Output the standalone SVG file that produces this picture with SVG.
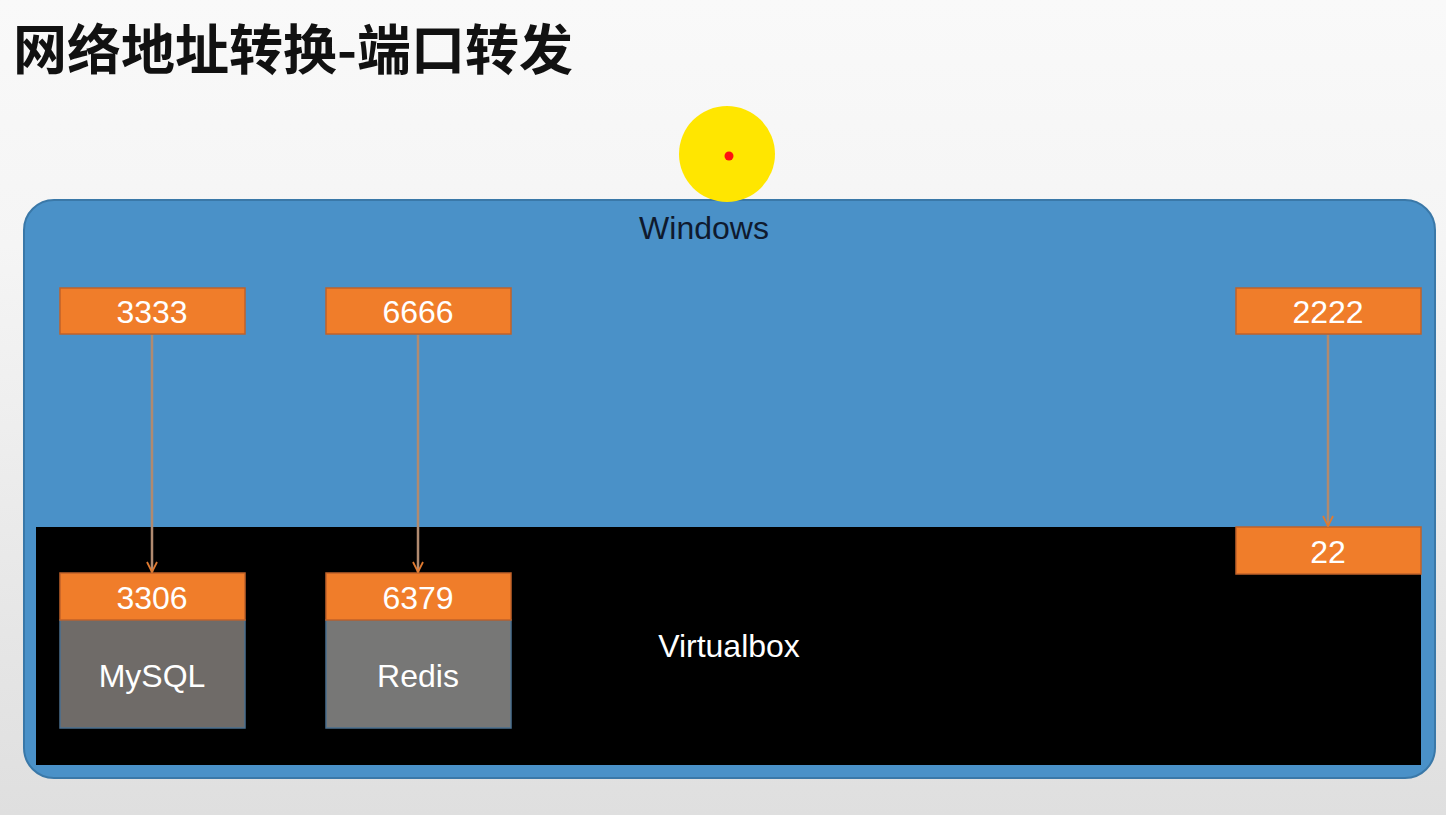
<svg xmlns="http://www.w3.org/2000/svg" width="1446" height="815" viewBox="0 0 1446 815">
<defs>
<linearGradient id="bg" x1="0" y1="0" x2="0" y2="1">
<stop offset="0" stop-color="#f9f9f9"/>
<stop offset="0.3" stop-color="#f5f5f5"/>
<stop offset="1" stop-color="#dfdfdf"/>
</linearGradient>
<marker id="arr" viewBox="0 0 12 12" refX="11" refY="6" markerWidth="12" markerHeight="12" markerUnits="userSpaceOnUse" orient="auto">
<path d="M1,1 L11,6 L1,11" fill="none" stroke="#e07a30" stroke-width="1.8"/>
</marker>
<style>
.port{fill:#f07d2a;stroke:#c0622a;stroke-width:1.5}
.lbl{font-family:"Liberation Sans",Arial,sans-serif;font-size:32px;fill:#ffffff;text-anchor:middle}
.svc{stroke:#4a6f8f;stroke-width:1.5}
.conn{stroke:#b08a70;stroke-width:2.5;fill:none}
</style>
</defs>
<rect x="0" y="0" width="1446" height="815" fill="url(#bg)"/>
<text x="13" y="70" font-family="'Noto Sans CJK SC',sans-serif" font-size="54" font-weight="bold" fill="#111">网络地址转换-端口转发</text>
<g id="windows">
<rect x="24" y="200" width="1411" height="578" rx="30" ry="30" fill="#4a91c8" stroke="#3a78a8" stroke-width="2"/>
<text x="704" y="239" font-family="'Liberation Sans',Arial,sans-serif" font-size="32" fill="#0f1a2e" text-anchor="middle">Windows</text>
</g>
<g id="cursor">
<circle cx="727" cy="154" r="48" fill="#ffe600"/>
<circle cx="729" cy="156" r="4.5" fill="#ff1010"/>
</g>
<g id="virtualbox">
<rect x="36" y="527" width="1385" height="238" fill="#000"/>
<text x="729" y="657" font-family="'Liberation Sans',Arial,sans-serif" font-size="32" fill="#ffffff" text-anchor="middle">Virtualbox</text>
</g>
<g id="p3333"><rect class="port" x="60" y="288" width="185" height="46"/><text class="lbl" x="152" y="323">3333</text></g>
<g id="p6666"><rect class="port" x="326" y="288" width="185" height="46"/><text class="lbl" x="418" y="323">6666</text></g>
<g id="p2222"><rect class="port" x="1236" y="288" width="185" height="46"/><text class="lbl" x="1328" y="323">2222</text></g>
<g id="p22"><rect class="port" x="1236" y="527" width="185" height="47"/><text class="lbl" x="1328" y="563">22</text></g>
<g id="mysql">
<rect class="svc" x="60" y="620" width="185" height="108" fill="#6f6b68"/>
<rect class="port" x="60" y="573" width="185" height="47" stroke="none"/>
<text class="lbl" x="152" y="609">3306</text>
<text class="lbl" x="152" y="687">MySQL</text>
</g>
<g id="redis">
<rect class="svc" x="326" y="620" width="185" height="108" fill="#777776"/>
<rect class="port" x="326" y="573" width="185" height="47" stroke="none"/>
<text class="lbl" x="418" y="609">6379</text>
<text class="lbl" x="418" y="687">Redis</text>
</g>
<g id="connectors">
<line class="conn" x1="152" y1="335" x2="152" y2="572" marker-end="url(#arr)"/>
<line class="conn" x1="418" y1="335" x2="418" y2="572" marker-end="url(#arr)"/>
<line class="conn" x1="1328" y1="335" x2="1328" y2="526" marker-end="url(#arr)"/>
</g>
</svg>
